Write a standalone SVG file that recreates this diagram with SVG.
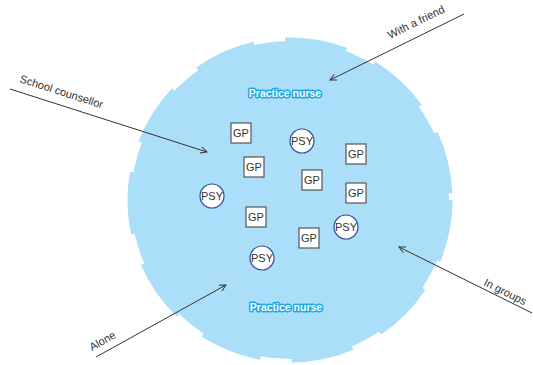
<svg xmlns="http://www.w3.org/2000/svg" width="533" height="365" viewBox="0 0 533 365">
<defs>
<style>
.lbl{font-family:"Liberation Sans",Arial,sans-serif;font-size:11px;fill:#333}
.pn{font-family:"Liberation Sans",Arial,sans-serif;font-size:10.5px;font-weight:bold;fill:#fff;stroke:#1ca8e4;stroke-width:3;paint-order:stroke;stroke-linejoin:round;text-anchor:middle}
.gp rect{fill:#fff;stroke:#555;stroke-width:1.2}
.psy circle{fill:#fff;stroke:#34499a;stroke-width:1.2}
.nt{font-family:"Liberation Sans",Arial,sans-serif;font-size:11px;fill:#333;text-anchor:middle}
.con line{stroke:#333;stroke-width:1}
</style>
<marker id="ah" viewBox="0 0 10 10" refX="9" refY="5" markerWidth="8" markerHeight="8" orient="auto" markerUnits="userSpaceOnUse">
<path d="M1,1 L9,5 L1,9" fill="none" stroke="#333" stroke-width="1.2"/>
</marker>
</defs>
<g id="area">
<circle cx="290" cy="200" r="159" fill="#abdff9" stroke="#abdff9" stroke-width="7" stroke-dasharray="62 31"/>
</g>
<g id="nurse-top"><text class="pn" x="285" y="97">Practice nurse</text></g>
<g id="nurse-bottom"><text class="pn" x="286" y="311">Practice nurse</text></g>
<g id="gp1" class="gp"><rect x="231" y="123" width="20" height="20"/><text class="nt" x="241" y="137">GP</text></g>
<g id="gp2" class="gp"><rect x="244" y="157" width="20" height="20"/><text class="nt" x="254" y="171">GP</text></g>
<g id="gp3" class="gp"><rect x="346" y="144" width="20" height="20"/><text class="nt" x="356" y="158">GP</text></g>
<g id="gp4" class="gp"><rect x="302" y="170" width="20" height="20"/><text class="nt" x="312" y="184">GP</text></g>
<g id="gp5" class="gp"><rect x="346" y="183" width="20" height="20"/><text class="nt" x="356" y="197">GP</text></g>
<g id="gp6" class="gp"><rect x="246" y="207" width="20" height="20"/><text class="nt" x="256" y="221">GP</text></g>
<g id="gp7" class="gp"><rect x="299" y="228" width="20" height="20"/><text class="nt" x="309" y="242">GP</text></g>
<g id="psy1" class="psy"><circle cx="302" cy="141" r="12"/><text class="nt" x="302" y="145">PSY</text></g>
<g id="psy2" class="psy"><circle cx="212" cy="196" r="12"/><text class="nt" x="212" y="200">PSY</text></g>
<g id="psy3" class="psy"><circle cx="346" cy="227" r="12"/><text class="nt" x="346" y="231">PSY</text></g>
<g id="psy4" class="psy"><circle cx="262" cy="258" r="12"/><text class="nt" x="262" y="262">PSY</text></g>
<g id="connectors" class="con">
<line x1="10" y1="89" x2="207" y2="152" marker-end="url(#ah)"/>
<line x1="464" y1="14" x2="330" y2="80" marker-end="url(#ah)"/>
<line x1="532" y1="313" x2="399" y2="247" marker-end="url(#ah)"/>
<line x1="96" y1="357" x2="226" y2="285" marker-end="url(#ah)"/>
</g>
<g id="labels">
<text class="lbl" transform="translate(19,82) rotate(17.7)">School counsellor</text>
<text class="lbl" transform="translate(390,39) rotate(-26.2)">With a friend</text>
<text class="lbl" transform="translate(483,285) rotate(26.4)">In groups</text>
<text class="lbl" transform="translate(92,351) rotate(-29)">Alone</text>
</g>
</svg>
